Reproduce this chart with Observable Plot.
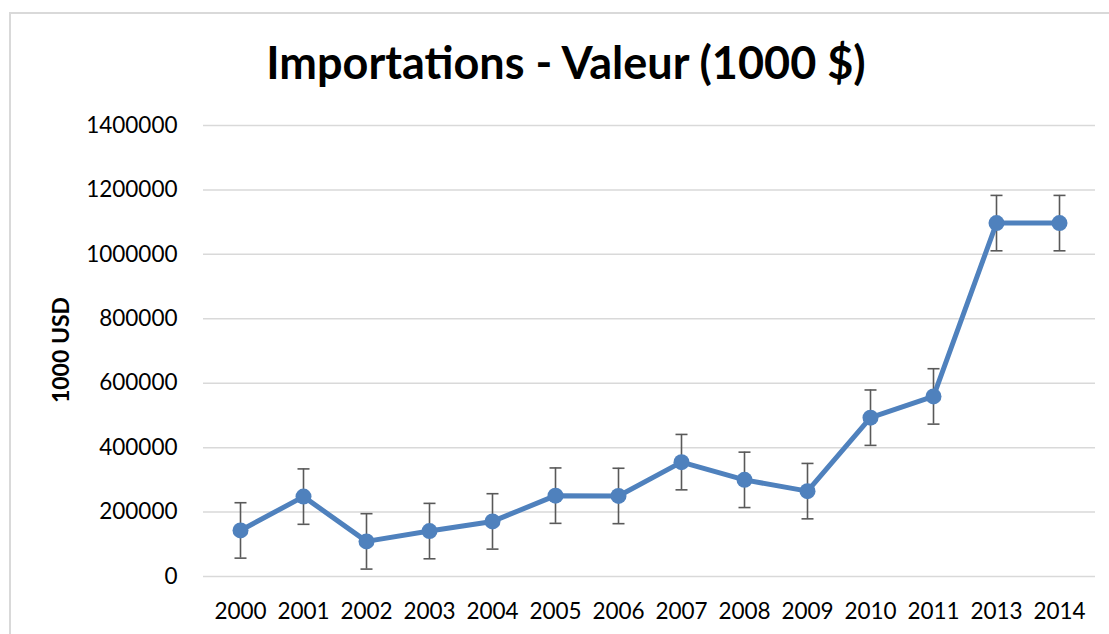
<!DOCTYPE html>
<html>
<head>
<meta charset="utf-8">
<script src="https://cdn.jsdelivr.net/npm/d3@7"></script>
<script src="https://cdn.jsdelivr.net/npm/@observablehq/plot@0.6"></script>
<style>
  body { margin: 0; background: #fff; font-family: Lato, "Open Sans", sans-serif; }
  #wrap { position: relative; width: 1109px; height: 634px; overflow: hidden; background: #fff; }
  #frame { position: absolute; left: 9px; top: 12px; width: 1200px; height: 700px; border: 2px solid #d9d9d9; box-sizing: border-box; }
  #title { position: absolute; left: 0; width: 1132px; top: 35px; text-align: center; font: bold 45px/1.2 Lato, sans-serif; color: #000; white-space: nowrap; }
  #ylab { position: absolute; left: 60px; top: 350px; transform: translate(-50%, -50%) rotate(-90deg); font: bold 23px Lato, sans-serif; white-space: nowrap; color: #000; }
  #chart { position: absolute; left: 0; top: 100px; }
</style>
</head>
<body>
<div id="wrap">
  <div id="frame"></div>
  <div id="title">Importations - Valeur (1000 $)</div>
  <div id="ylab">1000 USD</div>
  <div id="chart"></div>
</div>
<script>
const years = ["2000","2001","2002","2003","2004","2005","2006","2007","2008","2009","2010","2011","2013","2014"];
const values = [143000, 248000, 109000, 141000, 171000, 251000, 250000, 355000, 300000, 265000, 493000, 559000, 1097000, 1097000];
const errors = [86000, 86000, 86000, 86000, 86000, 86000, 86000, 86000, 86000, 86000, 86000, 86000, 86000, 86000];
const yTicks = [0, 200000, 400000, 600000, 800000, 1000000, 1200000, 1400000];

const data = years.map((y, i) => ({year: y, value: values[i], lo: values[i] - errors[i], hi: values[i] + errors[i]}));

// horizontal cap symbol for the error bars
const capSymbol = {draw(context) { context.moveTo(-6, 0); context.lineTo(6, 0); }};

const chart = Plot.plot({
  width: 1109,
  height: 534,
  marginTop: 25,
  marginBottom: 58,
  marginLeft: 203,
  marginRight: 14,
  style: {fontFamily: "Lato, sans-serif", fontSize: "22.5px", color: "#000", background: "transparent"},
  x: {type: "point", domain: years, padding: 0.5, label: null},
  y: {domain: [0, 1400000], ticks: yTicks, label: null},
  marks: [
    Plot.ruleY(yTicks, {stroke: "#d9d9d9", strokeWidth: 1.5}),
    Plot.axisX({tickSize: 0, tickPadding: 27, label: null, fontSize: 22.5}),
    Plot.axisY({ticks: yTicks, tickSize: 0, tickPadding: 26, label: null, tickFormat: d => String(d), fontSize: 22.5}),
    Plot.ruleX(data, {x: "year", y1: "lo", y2: "hi", stroke: "#595959", strokeWidth: 1.6}),
    Plot.dot(data, {x: "year", y: "lo", symbol: capSymbol, fill: "none", stroke: "#595959", strokeWidth: 1.6}),
    Plot.dot(data, {x: "year", y: "hi", symbol: capSymbol, fill: "none", stroke: "#595959", strokeWidth: 1.6}),
    Plot.line(data, {x: "year", y: "value", stroke: "#4F81BD", strokeWidth: 5, strokeLinejoin: "round"}),
    Plot.dot(data, {x: "year", y: "value", r: 8, fill: "#4F81BD", stroke: "none"})
  ]
});
document.getElementById("chart").appendChild(chart);
</script>
</body>
</html>
